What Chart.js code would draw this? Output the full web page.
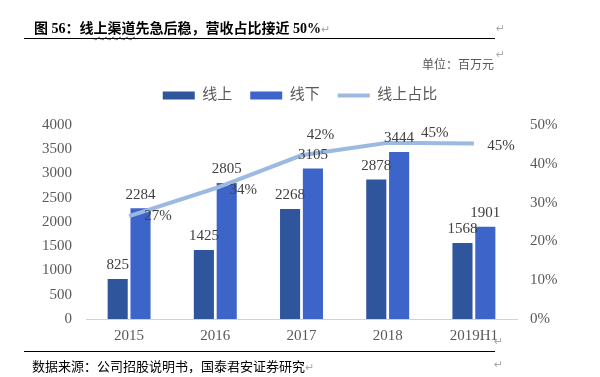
<!DOCTYPE html>
<html>
<head>
<meta charset="utf-8">
<script src="https://cdn.jsdelivr.net/npm/chart.js@4"></script>
<style>
  html, body { margin: 0; padding: 0; background: #fff; }
  #caja { position: relative; width: 600px; height: 377px; overflow: hidden; }
  #grafico { position: absolute; left: 0; top: 0; }
  .txt { position: absolute; white-space: nowrap; font-family: 'Liberation Serif', 'Noto Sans CJK SC', serif; }
  .regla { position: absolute; left: 24px; width: 471px; height: 1px; background: #000; }
  .marca { position: absolute; color: #aaa; font-size: 11px; font-family: 'DejaVu Sans', sans-serif; }
  .ola { text-decoration: underline wavy #3355ff; text-decoration-thickness: 1px; text-underline-offset: 3px; }
</style>
</head>
<body>
<div id="caja">
  <canvas id="grafico" width="600" height="377"></canvas>
  <div class="txt" style="left:34px; top:17px; font-size:14px; font-weight:bold; color:#000;">图 56：线<span class="ola">上渠道</span>先急后稳，营收占比接近 50%<span style="color:#aaa;font-weight:normal;font-size:11px;">↵</span></div>
  <div class="marca" style="left:496px; top:22px;">↵</div>
  <div class="regla" style="top:38px;"></div>
  <div class="txt" style="left:422px; top:55px; font-size:12px; color:#595959;">单位：百万元</div>
  <div class="marca" style="left:496px; top:48px;">↵</div>
  <div class="marca" style="left:494px; top:335px;">↵</div>
  <div class="regla" style="top:351px;"></div>
  <div class="txt" style="left:32px; top:356px; font-size:13px; color:#000;">数据来源：公司招股说明书，国泰君安证券研究<span style="color:#aaa;font-size:11px;">↵</span></div>
  <div class="marca" style="left:494px; top:358px;">↵</div>
</div>
<script>
// datos
const categorias = ["2015", "2016", "2017", "2018", "2019H1"];
const ventas_online = [825, 1425, 2268, 2878, 1568];
const ventas_offline = [2284, 2805, 3105, 3444, 1901];
const porcentaje_online = [26.5, 33.7, 42.2, 45.4, 45.2];
const ticks_izq = [0, 500, 1000, 1500, 2000, 2500, 3000, 3500, 4000];
const ticks_der = [0, 10, 20, 30, 40, 50];

// desplazamiento de las etiquetas del porcentaje respecto al punto
const desplaz_etiquetas = [[29, 0], [28, 2], [19, -20], [47, -10], [27, 2]];

const fuente = "'Liberation Serif', 'Noto Sans CJK SC', serif";
const color_texto = "#595959";

const etiquetas_plugin = {
  id: "etiquetas",
  beforeInit(chart) {
    // espacio extra debajo de la leyenda
    const fit_original = chart.legend.fit;
    chart.legend.fit = function () {
      fit_original.bind(chart.legend)();
      this.height += 12;
    };
  },
  afterDatasetsDraw(chart) {
    const ctx = chart.ctx;
    ctx.save();
    ctx.font = "15px " + fuente;
    ctx.fillStyle = "#404040";
    ctx.textAlign = "center";
    [0, 1].forEach(i => {
      const meta = chart.getDatasetMeta(i);
      ctx.textBaseline = "bottom";
      meta.data.forEach((el, j) => {
        ctx.fillText(String(chart.data.datasets[i].data[j]), el.x, el.y - 6);
      });
    });
    const meta_linea = chart.getDatasetMeta(2);
    ctx.textBaseline = "middle";
    meta_linea.data.forEach((pt, j) => {
      const d = desplaz_etiquetas[j];
      ctx.fillText(Math.round(porcentaje_online[j]) + "%", pt.x + d[0], pt.y + d[1]);
    });
    ctx.restore();
  }
};

function principal() {
  const canvas = document.getElementById("grafico");
  new Chart(canvas, {
    data: {
      labels: categorias,
      datasets: [
        {
          type: "bar",
          label: "线上",
          data: ventas_online,
          backgroundColor: "#2f569c",
          pointStyle: "rect",
          yAxisID: "y",
          order: 1
        },
        {
          type: "bar",
          label: "线下",
          data: ventas_offline,
          backgroundColor: "#3d64c8",
          pointStyle: "rect",
          yAxisID: "y",
          order: 1
        },
        {
          type: "line",
          label: "线上占比",
          data: porcentaje_online,
          borderColor: "#9cb9e2",
          backgroundColor: "#9cb9e2",
          borderWidth: 4,
          pointRadius: 0,
          pointStyle: "line",
          tension: 0,
          yAxisID: "y1",
          order: 0
        }
      ]
    },
    options: {
      responsive: false,
      animation: false,
      datasets: { bar: { categoryPercentage: 0.53, barPercentage: 0.88 } },
      layout: { padding: { top: 70, bottom: 18, left: 0, right: 0 } },
      plugins: {
        legend: {
          position: "top",
          labels: {
            usePointStyle: true,
            pointStyleWidth: 32,
            boxWidth: 32,
            boxHeight: 8,
            padding: 18,
            color: color_texto,
            font: { size: 15, family: fuente },
            sort: (a, b) => a.datasetIndex - b.datasetIndex
          }
        },
        tooltip: { enabled: false }
      },
      scales: {
        x: {
          grid: { display: false, drawTicks: false },
          border: { display: true, color: "#e0cccc", width: 1 },
          ticks: { color: color_texto, font: { size: 15, family: fuente }, padding: 8 },
          afterFit: s => { s.height = 40; }
        },
        y: {
          position: "left",
          min: 0, max: 4000,
          grid: { display: false, drawTicks: false },
          border: { display: false },
          afterBuildTicks: s => { s.ticks = ticks_izq.map(v => ({ value: v })); },
          ticks: { color: color_texto, font: { size: 15, family: fuente }, padding: 14, callback: v => String(v) },
          afterFit: s => { s.width = 86; }
        },
        y1: {
          position: "right",
          min: 0, max: 50,
          grid: { display: false, drawTicks: false },
          border: { display: false },
          afterBuildTicks: s => { s.ticks = ticks_der.map(v => ({ value: v })); },
          ticks: { color: color_texto, font: { size: 15, family: fuente }, padding: 13, callback: v => v + "%" },
          afterFit: s => { s.width = 83; }
        }
      }
    },
    plugins: [etiquetas_plugin]
  });
}

principal();
</script>
</body>
</html>
